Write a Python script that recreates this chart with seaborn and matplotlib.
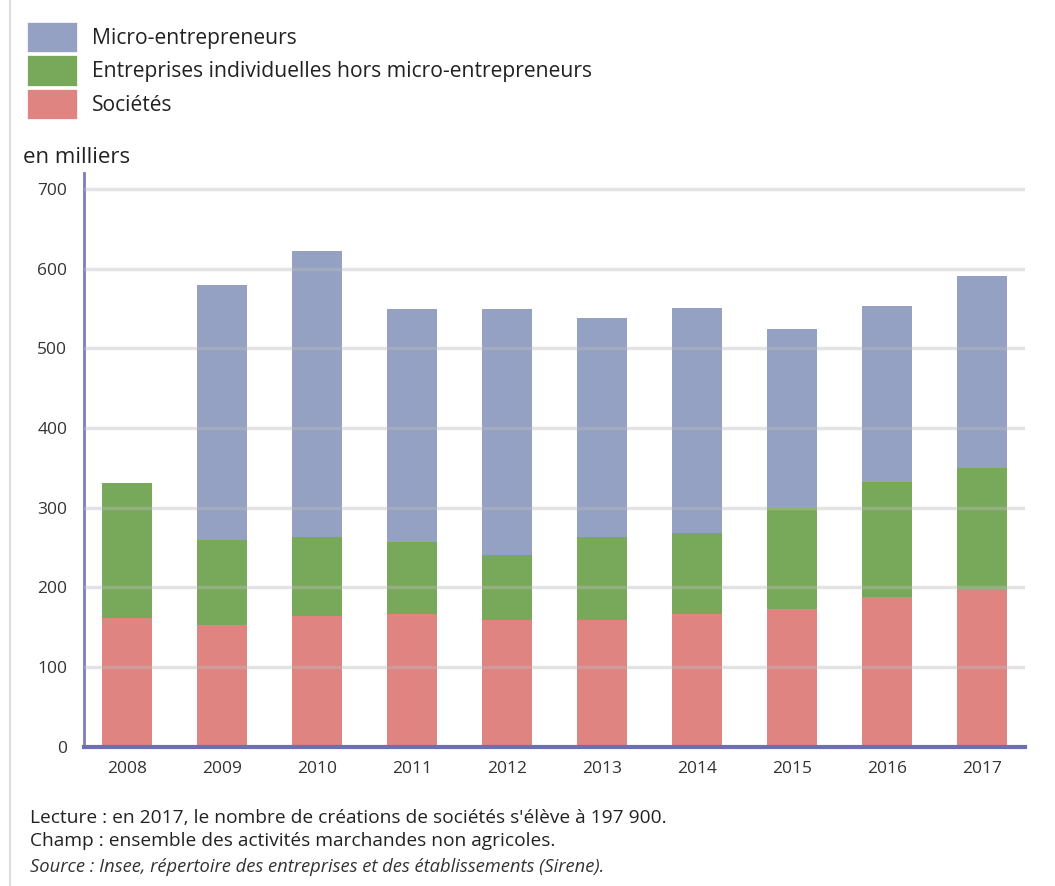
import matplotlib
matplotlib.use("Agg")
import matplotlib.pyplot as plt
import matplotlib.patches as mpatches
import seaborn as sns
import pandas as pd
import numpy as np

# données (en milliers)
annees = ["2008", "2009", "2010", "2011", "2012", "2013", "2014", "2015", "2016", "2017"]
societes = [161.5, 153, 164, 166, 159.5, 159, 166, 173, 188, 197.9]
ei_hors_micro = [170, 106, 99, 90.6, 81.5, 104, 102, 127.6, 144, 151.7]
micro = [0, 321, 359, 292.4, 308, 275, 283, 224, 221.5, 241.4]

series = ["Micro-entrepreneurs", "Entreprises individuelles hors micro-entrepreneurs", "Sociétés"]
couleurs = {"Micro-entrepreneurs": "#94a1c3",
            "Entreprises individuelles hors micro-entrepreneurs": "#78a95a",
            "Sociétés": "#e08481"}

sns.set_theme(style="white")
plt.rcParams["font.family"] = ["Open Sans", "DejaVu Sans"]

df = pd.DataFrame({"annee": annees, "soc": societes, "ei": ei_hors_micro, "micro": micro})
df["cum_soc"] = df["soc"]
df["cum_ei"] = df["soc"] + df["ei"]
df["cum_micro"] = df["cum_ei"] + df["micro"]

fig = plt.figure(figsize=(10.55, 8.86), dpi=100)
ax = fig.add_axes([0.0796, 0.1573, 0.8920, 0.6474])

# barres empilées : on dessine les cumuls de l'arrière vers l'avant
for col, nom in [("cum_micro", series[0]), ("cum_ei", series[1]), ("cum_soc", series[2])]:
    sns.barplot(data=df, x="annee", y=col, color=couleurs[nom], saturation=1,
                width=0.53, ax=ax, linewidth=0, zorder=2)

ax.set_xlim(-0.45, 9.45)
ax.set_ylim(0, 720)
ax.set_yticks(np.arange(0, 701, 100))
ax.set_xlabel("")
ax.set_ylabel("")

# grille au-dessus des barres, très claire
ax.set_axisbelow(False)
ax.grid(axis="y", color="#bbbbbb", linewidth=2.5, alpha=0.4, zorder=3)
ax.grid(axis="x", visible=False)

for s in ["top", "right"]:
    ax.spines[s].set_visible(False)
ax.spines["left"].set_color("#7b7bc4")
ax.spines["left"].set_linewidth(2)
ax.spines["bottom"].set_color("#6e6eb8")
ax.spines["bottom"].set_linewidth(3)
ax.spines["bottom"].set_zorder(5)

ax.tick_params(axis="y", length=0, labelsize=12.5, labelcolor="#333333", pad=12)
ax.tick_params(axis="x", length=0, labelsize=12.5, labelcolor="#333333", pad=10)

# légende
handles = [mpatches.Patch(facecolor=couleurs[n], edgecolor="#ffffff", linewidth=0.5, label=n) for n in series]
fig.legend(handles=handles, loc="upper left", bbox_to_anchor=(0.0174, 0.9848),
           frameon=False, fontsize=15.2, handlelength=2.4, handleheight=1.83,
           handletextpad=0.7, labelspacing=0.15, borderaxespad=0, labelcolor="#222222")

fig.text(0.022, 0.822, "en milliers", fontsize=16, color="#222222", va="center")

fig.text(0.028, 0.077, "Lecture : en 2017, le nombre de créations de sociétés s'élève à 197 900.",
         fontsize=13.8, color="#222222", va="center")
fig.text(0.028, 0.051, "Champ : ensemble des activités marchandes non agricoles.",
         fontsize=13.8, color="#222222", va="center")
fig.text(0.028, 0.022, "Source : Insee, répertoire des entreprises et des établissements (Sirene).",
         fontsize=13.2, color="#333333", style="italic", va="center")

# bordure grise à gauche
fig.add_artist(plt.Line2D([0.0095, 0.0095], [0, 1], color="#dddddd", linewidth=1.5,
                          transform=fig.transFigure))

fig.savefig("out.png", dpi=100, facecolor="white")
